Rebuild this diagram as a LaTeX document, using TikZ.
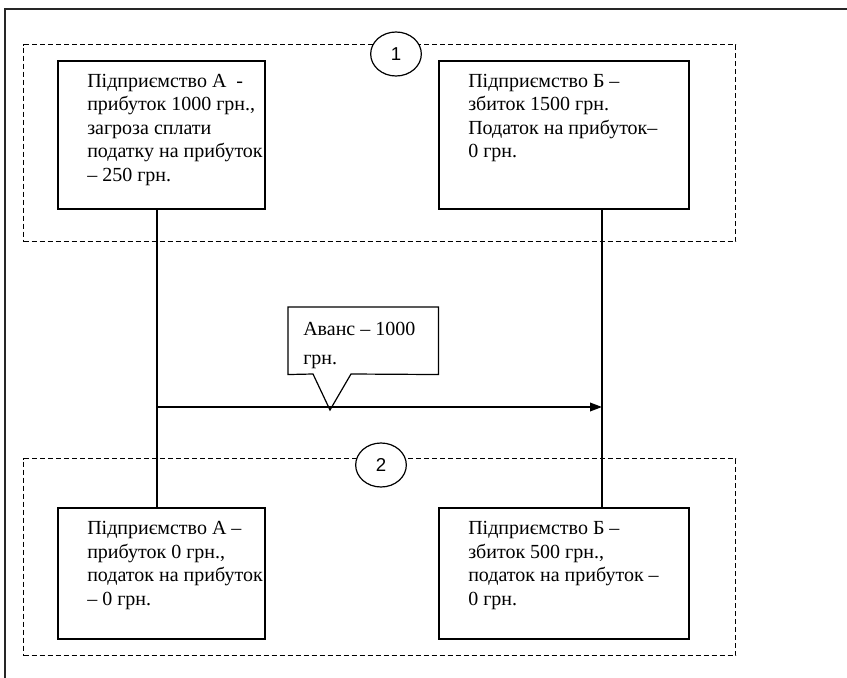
\documentclass[tikz,border=0pt]{standalone}
\usepackage{fontspec}
\setmainfont{Liberation Serif}
\newfontfamily\numfont{Liberation Sans}
\usetikzlibrary{arrows.meta,shapes.geometric}
\begin{document}
\begin{tikzpicture}[x=0.75pt,y=-0.75pt,
  frameline/.style={line width=0.9pt, draw=black!85},
  group/.style={draw=black, line width=1.1pt, dash pattern=on 3.8pt off 2.2pt, inner sep=0pt, anchor=north west},
  box/.style={draw=black, line width=1.2pt, inner sep=0pt, anchor=north west},
  txt/.style={inner sep=0pt, anchor=north west, align=left, font=\fontsize{15}{17.6}\selectfont},
  ctxt/.style={inner sep=0pt, anchor=north west, align=left, font=\fontsize{15}{21.75}\selectfont},
  num/.style={draw=black, line width=0.9pt, ellipse, fill=white, minimum width=38pt, minimum height=33pt, inner sep=0pt, font=\numfont\fontsize{14}{16}\selectfont},
  link/.style={draw=black, line width=1.1pt},
  callout/.style={draw=black, line width=0.9pt, line join=miter}]
\useasboundingbox (0,0) rectangle (847,678);
\draw[frameline] (5,678) -- (5,9) -- (847,9);

% groups
\node[group, minimum width=534pt, minimum height=147.75pt] (g1) at (23,44) {};
\node[group, minimum width=534pt, minimum height=147.75pt] (g2) at (23,458) {};

% boxes
\node[box, minimum width=155.25pt, minimum height=111pt] (A1) at (57,60) {};
\node[box, minimum width=187.5pt, minimum height=111pt] (B1) at (438,60) {};
\node[box, minimum width=155.25pt, minimum height=98.25pt] (A2) at (57,507) {};
\node[box, minimum width=187.5pt, minimum height=98.25pt] (B2) at (438,507) {};

\node[txt] (tA1) at (87,70.6) {\strut Підприємство А \ -\\прибуток 1000 грн.,\\загроза сплати\\податку на прибуток\\– 250 грн.};
\node[txt] (tB1) at (468,70.6) {\strut Підприємство Б –\\збиток 1500 грн.\\Податок на прибуток–\\0 грн.};
\node[txt] (tA2) at (87,518) {\strut Підприємство А –\\прибуток 0 грн.,\\податок на прибуток\\– 0 грн.};
\node[txt] (tB2) at (468,518) {\strut Підприємство Б –\\збиток 500 грн.,\\податок на прибуток –\\0 грн.};

% number circles
\node[num] (n1) at (396,54) {1};
\node[num] (n2) at (381,465) {2};

% connectors
\coordinate (la) at (157,0);
\coordinate (lb) at (602,0);
\coordinate (ay) at (0,407);
\draw[link] (A1.south -| la) -- (A2.north -| la);
\draw[link] (B1.south -| lb) -- (B2.north -| lb);
\draw[link,-{Triangle[length=9pt,width=6.5pt]}] (la |- ay) -- (lb |- ay);

% callout
\node[inner sep=0pt, anchor=north west, minimum width=112.5pt, minimum height=50.25pt] (cb) at (288,307) {};
\coordinate (tip) at (330,410);
\draw[callout] (cb.south west) -- (cb.north west) -- (cb.north east) -- (cb.south east)
  -- (351,374) -- (tip) -- (313,374) -- cycle;
\node[ctxt] (tc) at (303,314.7) {\strut Аванс – 1000\\грн.};
\end{tikzpicture}
\end{document}
